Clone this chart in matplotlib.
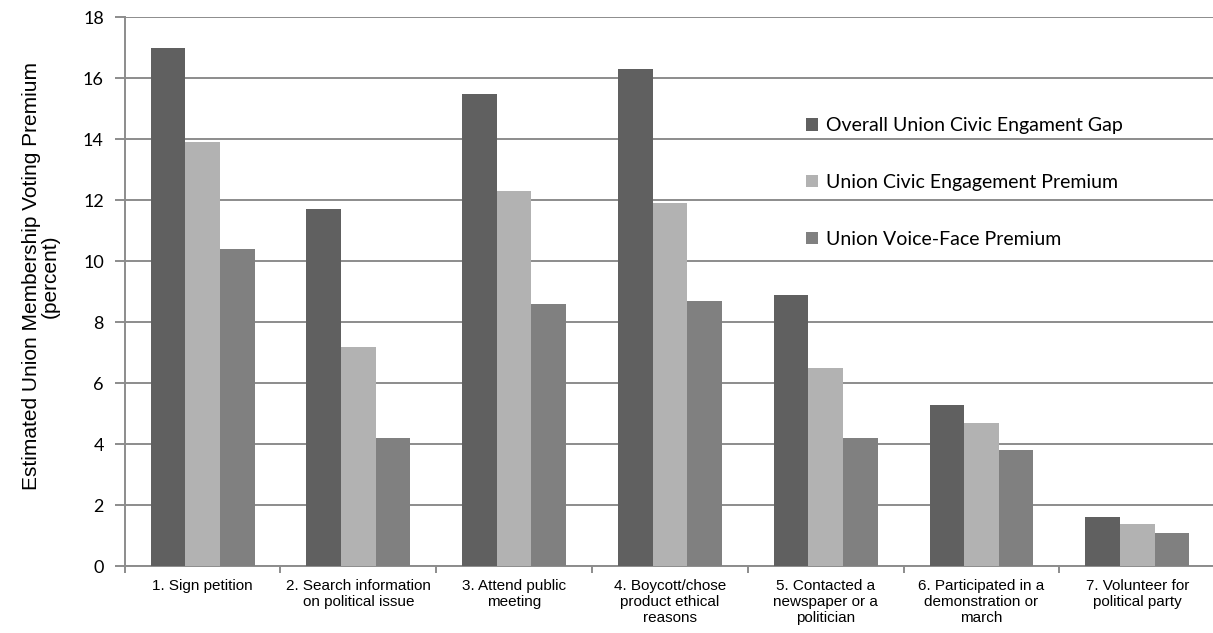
import matplotlib
matplotlib.use("Agg")
import matplotlib.pyplot as plt
import numpy as np

categories = [
    "1. Sign petition",
    "2. Search information\non political issue",
    "3. Attend public\nmeeting",
    "4. Boycott/chose\nproduct ethical\nreasons",
    "5. Contacted a\nnewspaper or a\npolitician",
    "6. Participated in a\ndemonstration or\nmarch",
    "7. Volunteer for\npolitical party",
]
overall_gap = [17.0, 11.7, 15.5, 16.3, 8.9, 5.3, 1.6]
civic_premium = [13.9, 7.2, 12.3, 11.9, 6.5, 4.7, 1.4]
voice_face_premium = [10.4, 4.2, 8.6, 8.7, 4.2, 3.8, 1.1]
series_names = [
    "Overall Union Civic Engament Gap",
    "Union Civic Engagement Premium",
    "Union Voice-Face Premium",
]
y_ticks = [0, 2, 4, 6, 8, 10, 12, 14, 16, 18]

colors = ["#606060", "#b2b2b2", "#808080"]
grid_color = "#8c8c8c"

fig = plt.figure(figsize=(12.13, 6.33), dpi=100)
ax = fig.add_axes([0.1028, 0.1054, 0.8990, 0.8673])

x = np.arange(len(categories))
width = 1.0 / 4.5
series = [overall_gap, civic_premium, voice_face_premium]
for i, (vals, name, c) in enumerate(zip(series, series_names, colors)):
    ax.bar(x + (i - 1) * width, vals, width=width, color=c, label=name,
           zorder=3, linewidth=0)

ax.set_xlim(-0.5, len(categories) - 0.5)
ax.set_ylim(0, 18)
ax.set_yticks(y_ticks)
ax.set_yticklabels([str(t) for t in y_ticks], fontfamily="Lato", fontsize=13)
ax.yaxis.grid(True, color=grid_color, linewidth=1.4, zorder=0)
ax.set_axisbelow(True)

# category labels centred under each group, ticks at group boundaries
ax.set_xticks(x)
ax.set_xticklabels(categories, fontfamily="Liberation Sans", fontsize=11,
                   linespacing=1.2, va="top")
ax.tick_params(axis="x", which="major", length=0, pad=9)
ax.set_xticks(np.arange(len(categories) + 1) - 0.5, minor=True)
ax.tick_params(axis="x", which="minor", length=5, width=1.4, color=grid_color)
ax.tick_params(axis="y", length=7, width=1.4, color=grid_color, pad=8)

for side in ["top", "right"]:
    ax.spines[side].set_visible(False)
for side in ["left", "bottom"]:
    ax.spines[side].set_color(grid_color)
    ax.spines[side].set_linewidth(1.4)

ax.set_ylabel("Estimated Union Membership Voting Premium\n(percent)",
              fontfamily="Liberation Sans", fontsize=15, linespacing=0.95)
ax.yaxis.set_label_coords(-0.060, 0.529)

leg = ax.legend(loc="upper left", bbox_to_anchor=(0.609, 0.85), frameon=False,
                prop={"family": "Lato", "size": 14}, handlelength=0.62,
                handleheight=0.62, handletextpad=0.4, labelspacing=2.05)

fig.savefig("out.png", dpi=100)
